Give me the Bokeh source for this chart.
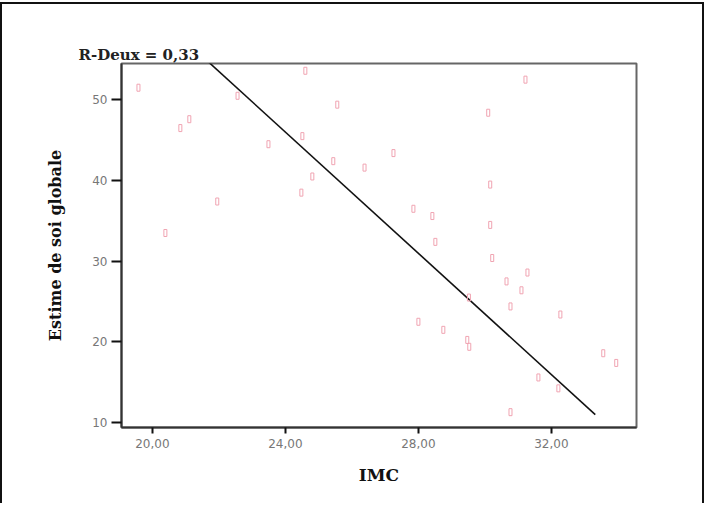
from bokeh.plotting import figure
from bokeh.models import FixedTicker, Range1d, CustomJSTickFormatter
from bokeh.embed import file_html
from bokeh.resources import INLINE

# Data
imc = [19.58, 20.84, 21.11, 21.95, 20.39, 22.56, 23.49, 24.60, 24.51, 24.81,
       24.48, 25.56, 25.44, 26.38, 27.25, 30.10, 31.22, 27.85, 28.42, 28.51,
       30.16, 30.16, 30.22, 28.00, 28.75, 29.47, 29.53, 30.65, 31.28, 31.10,
       30.77, 32.27, 31.61, 32.21, 30.77, 33.56, 33.95, 29.52]
estime = [51.5, 46.5, 47.6, 37.4, 33.5, 50.5, 44.5, 53.6, 45.5, 40.5,
          38.5, 49.4, 42.4, 41.6, 43.4, 48.4, 52.5, 36.5, 35.6, 32.4,
          39.5, 34.5, 30.4, 22.5, 21.5, 20.25, 19.4, 27.5, 28.6, 26.4,
          24.4, 23.4, 15.6, 14.25, 11.3, 18.6, 17.4, 25.5]

# Fit line (R-Deux = 0,33)
fit_x = [19.58, 33.32]
fit_y = [62.6, 11.0]

x_ticks = [20, 24, 28, 32]
y_ticks = [10, 20, 30, 40, 50]

p = figure(width=704, height=501, output_backend="svg", toolbar_location=None,
           x_range=Range1d(19.07, 34.56), y_range=Range1d(9.4, 54.5),
           min_border_left=119, min_border_top=59, min_border_right=70,
           min_border_bottom=78)
p.styles = {"border-left": "2px solid #111", "border-top": "2px solid #111",
            "border-right": "2px solid #111", "margin-top": "2px"}

p.grid.visible = False
p.outline_line_color = "#666666"
p.outline_line_width = 2
p.background_fill_color = "white"
p.border_fill_color = "white"

p.title.text = "R-Deux = 0,33"
p.title.align = "left"
p.title.offset = -43
p.title.text_font = "DejaVu Serif"
p.title.text_font_style = "bold"
p.title.text_font_size = "15px"
p.title.text_color = "#222222"
p.title.standoff = 0

p.line(fit_x, fit_y, line_color="#111111", line_width=1.6)
p.rect(imc, estime, width=3, height=7, width_units="screen", height_units="screen",
       fill_color=None, line_color="#f0a4b2", line_width=1)

p.xaxis.ticker = FixedTicker(ticks=x_ticks)
p.yaxis.ticker = FixedTicker(ticks=y_ticks)
p.xaxis.formatter = CustomJSTickFormatter(code="return tick.toFixed(2).replace('.', ',');")
p.xaxis.axis_label = "IMC"
p.yaxis.axis_label = "Estime de soi globale"

for ax in (p.xaxis[0], p.yaxis[0]):
    ax.axis_line_color = "#333333"
    ax.axis_line_width = 2
    ax.major_tick_line_color = "#111111"
    ax.major_tick_line_width = 2
    ax.minor_tick_line_color = None
    ax.major_tick_in = 0
    ax.major_label_text_font = "DejaVu Sans"
    ax.major_label_text_font_size = "12px"
    ax.major_label_text_color = "#777777"
    ax.axis_label_text_font = "DejaVu Serif"
    ax.axis_label_text_font_style = "bold"
    ax.axis_label_text_color = "#111111"

p.yaxis.major_tick_out = 10
p.xaxis.major_tick_out = 6
p.yaxis.major_label_standoff = 4
p.xaxis.major_label_standoff = 5
p.yaxis.axis_label_text_font_size = "16px"
p.xaxis.axis_label_text_font_size = "17px"
p.yaxis.axis_label_standoff = 24
p.xaxis.axis_label_standoff = 14

open("out.html", "w").write(file_html(p, INLINE))
